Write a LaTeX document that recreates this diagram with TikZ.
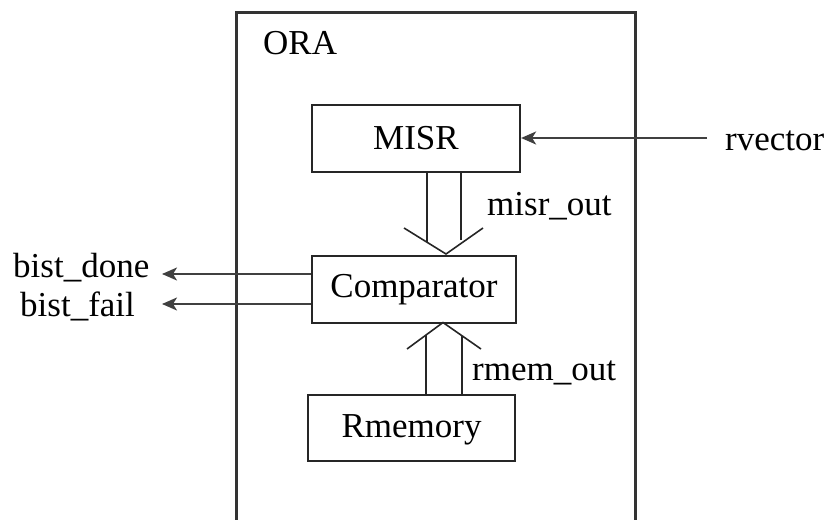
\documentclass[tikz,border=0pt]{standalone}
\usepackage{fontspec}
\setmainfont{Liberation Serif}
\usetikzlibrary{arrows.meta}
\begin{document}
\begin{tikzpicture}[x=1pt,y=-1pt,
  blk/.style={draw=black!85,line width=2.2pt,minimum width=#1,minimum height=67pt,inner sep=0pt,font=\fontsize{35}{40}\selectfont},
  lbl/.style={inner sep=0pt,font=\fontsize{35}{40}\selectfont},
  sig/.style={draw=black!75,line width=2pt,-{Stealth[length=15pt,width=13pt,inset=4pt]}},
  bus/.style={draw=black!85,line width=1.6pt}]
\useasboundingbox (0,0) rectangle (829,519);
% outer ORA frame (open at the bottom)
\draw[draw=black!80,line width=3pt] (236,522) -- (236,12.5) -- (635,12.5) -- (635,522);
\node[lbl,anchor=base west] (ora) at (263,55) {ORA};
% blocks
\node[blk=208pt] (misr) at (416,138.5) {MISR};
\node[blk=204pt] (cmp) at (414,289.5) {Comparator};
\node[blk=207pt,minimum height=66pt,text depth=3pt] (rmem) at (411.5,428) {Rmemory};
% labels
\node[lbl,anchor=base west] (misrout) at (487,215) {misr\_out};
\node[lbl,anchor=base west] (rmemout) at (472,380) {rmem\_out};
\node[lbl,anchor=base west] (rvec) at (725,150) {rvector};
\node[lbl,anchor=base west] (done) at (13,277) {bist\_done};
\node[lbl,anchor=base west] (fail) at (20,316) {bist\_fail};
% coordinates for signals
\coordinate (rvecend) at (707,138);
\coordinate (doneend) at (162,274);
\coordinate (failend) at (162,304);
% signal arrows
\draw[sig] (rvecend) -- (misr.east |- rvecend);
\draw[sig] (cmp.west |- doneend) -- (doneend);
\draw[sig] (cmp.west |- failend) -- (failend);
% bus arrow MISR -> Comparator
\coordinate (t1) at (446,254);
\draw[bus] (404,228) -- (t1) -- (483,228);
\draw[bus] (misr.south -| 427,0) -- (427,241.5);
\draw[bus] (misr.south -| 461,0) -- (461,239.5);
% bus arrow Rmemory -> Comparator
\coordinate (t2) at (443,322.5);
\draw[bus] (407,349) -- (t2) -- (481,349);
\draw[bus] (rmem.north -| 426,0) -- (426,334.5);
\draw[bus] (rmem.north -| 462,0) -- (462,336);
\end{tikzpicture}
\end{document}
